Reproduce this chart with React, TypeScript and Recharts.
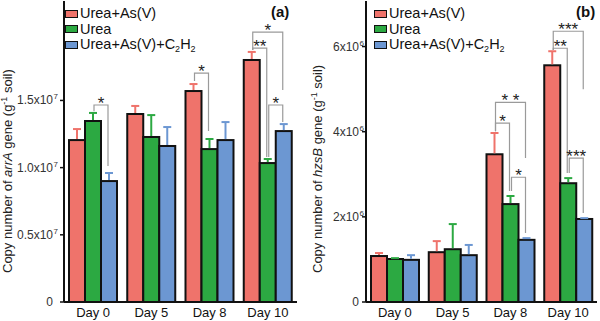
import { BarChart, Bar, XAxis, YAxis, Legend } from 'recharts';

const days = ['Day 0', 'Day 5', 'Day 8', 'Day 10'];
const seriesNames = ['Urea+As(V)', 'Urea', 'Urea+As(V)+C2H2'];
const colors = ['#EF736B', '#2CA942', '#6C97D2'];

// panel (a): arrA copies
const arrAUreaAs = [1.205e7, 1.399e7, 1.57e7, 1.801e7];
const arrAUrea = [1.347e7, 1.228e7, 1.138e7, 1.034e7];
const arrAC2H2 = [0.9e7, 1.161e7, 1.205e7, 1.272e7];
const arrAUreaAsSd = [0.082e7, 0.06e7, 0.052e7, 0.06e7];
const arrAUreaSd = [0.06e7, 0.163e7, 0.075e7, 0.03e7];
const arrAC2H2Sd = [0.06e7, 0.141e7, 0.134e7, 0.052e7];
const arrATicks = [0, 0.5e7, 1.0e7, 1.5e7];
const arrATickLabels = [['0', ''], ['0.5x10', '7'], ['1.0x10', '7'], ['1.5x10', '7']];
const arrABrackets = [
  { day: 0, from: 1, to: 2, level: 1.466e7, fromEnd: 1.42e7, toEnd: 1.012e7, mark: '*' },
  { day: 2, from: 0, to: 1, level: 1.704e7, fromEnd: 1.644e7, toEnd: 1.272e7, mark: '*' },
  { day: 3, from: 0, to: 2, level: 2.009e7, fromEnd: 1.875e7, toEnd: 1.577e7, mark: '*' },
  { day: 3, from: 0, to: 1, level: 1.89e7, fromEnd: 1.875e7, toEnd: 1.079e7, mark: '**' },
  { day: 3, from: 1, to: 2, level: 1.466e7, fromEnd: 1.079e7, toEnd: 1.339e7, mark: '*' },
];

// panel (b): hzsB copies
const hzsBUreaAs = [1.08e6, 1.17e6, 3.47e6, 5.56e6];
const hzsBUrea = [1.01e6, 1.24e6, 2.3e6, 2.79e6];
const hzsBC2H2 = [0.99e6, 1.1e6, 1.46e6, 1.95e6];
const hzsBUreaAsSd = [0.07e6, 0.26e6, 0.5e6, 0.33e6];
const hzsBUreaSd = [0.02e6, 0.59e6, 0.19e6, 0.12e6];
const hzsBC2H2Sd = [0.11e6, 0.24e6, 0.04e6, 0.02e6];
const hzsBTicks = [0, 2e6, 4e6, 6e6];
const hzsBTickLabels = [['0', ''], ['2x10', '6'], ['4x10', '6'], ['6x10', '6']];
const hzsBBrackets = [
  { day: 2, from: 0, to: 1, level: 4.2e6, fromEnd: 4.01e6, toEnd: 2.61e6, mark: '*' },
  { day: 2, from: 0, to: 2, level: 4.69e6, fromEnd: 4.01e6, toEnd: 3.38e6, mark: '* *' },
  { day: 2, from: 1, to: 2, level: 2.93e6, fromEnd: 2.61e6, toEnd: 1.62e6, mark: '*' },
  { day: 3, from: 0, to: 2, level: 6.36e6, fromEnd: 5.92e6, toEnd: 5.0e6, mark: '***' },
  { day: 3, from: 0, to: 1, level: 5.96e6, fromEnd: 5.92e6, toEnd: 3.03e6, mark: '**' },
  { day: 3, from: 1, to: 2, level: 3.38e6, fromEnd: 3.03e6, toEnd: 2.09e6, mark: '***' },
];

const FONT = '"Liberation Sans", Arial, sans-serif';

type Bracket = { day: number; from: number; to: number; level: number; fromEnd: number; toEnd: number; mark: string };

const buildRows = (vals: number[][], sds: number[][]) =>
  days.map((day, i) => ({
    day,
    s0: vals[0][i], s1: vals[1][i], s2: vals[2][i],
    e0: sds[0][i], e1: sds[1][i], e2: sds[2][i],
  }));

const subStyle = { fontSize: 9, position: 'relative' as const, top: 3, lineHeight: 0 };

const seriesLabel = (name: string) => {
  if (name.endsWith('C2H2')) {
    return (
      <span>
        {name.slice(0, -4)}C<span style={subStyle}>2</span>H<span style={subStyle}>2</span>
      </span>
    );
  }
  return <span>{name}</span>;
};

// bar + error cap; the last series also draws the significance brackets of its group
const makeShape = (s: number, brackets: Bracket[]) => (props: any) => {
  const { x, y, width, height, payload, index } = props;
  const v = payload['s' + s];
  const sd = payload['e' + s];
  const k = v ? height / v : 0;
  const base = y + height;
  const toY = (val: number) => base - val * k;
  const cx = x + width / 2;
  const errTop = y - sd * k;
  const own = s === 2 ? brackets.filter((b) => b.day === index) : [];
  const barCx = (si: number) => x - (s - si) * width + width / 2;
  return (
    <g>
      <rect x={x} y={y} width={width} height={height} fill={colors[s]} stroke="#111" strokeWidth={2} />
      <line x1={cx} y1={y - 1} x2={cx} y2={errTop} stroke={colors[s]} strokeWidth={2} />
      <line x1={cx - 4} y1={errTop} x2={cx + 4} y2={errTop} stroke={colors[s]} strokeWidth={2} />
      {own.map((b, j) => {
        const x1 = barCx(b.from) + 1;
        const x2 = barCx(b.to) - 1;
        const yl = toY(b.level);
        return (
          <g key={j}>
            <polyline
              points={`${x1},${toY(b.fromEnd)} ${x1},${yl} ${x2},${yl} ${x2},${toY(b.toEnd)}`}
              fill="none"
              stroke="#9a9a9a"
              strokeWidth={1.2}
            />
            <text x={(x1 + x2) / 2} y={yl + 4} textAnchor="middle" fontSize={17} fill="#222" fontFamily={FONT}>
              {b.mark}
            </text>
          </g>
        );
      })}
    </g>
  );
};

const XTick = (props: any) => {
  const { x, y, payload } = props;
  return (
    <text x={x} y={y + 15} textAnchor="middle" fontSize={13} fill="#111" fontFamily={FONT}>
      {payload.value}
    </text>
  );
};

const makeYTick = (ticks: number[], labels: string[][]) => (props: any) => {
  const { x, y, payload } = props;
  const lab = labels[ticks.indexOf(payload.value)] || [String(payload.value), ''];
  return (
    <g>
      <text x={x} y={y + 4} textAnchor="end" fontSize={12} fill="#333" fontFamily={FONT}>
        {lab[0]}
      </text>
      {lab[1] && (
        <text x={x + 0.5} y={y - 1} textAnchor="start" fontSize={8} fill="#333" fontFamily={FONT}>
          {lab[1]}
        </text>
      )}
    </g>
  );
};

type PanelProps = {
  rows: any[];
  ticks: number[];
  tickLabels: string[][];
  domain: [number, number];
  gene: string;
  brackets: Bracket[];
  axisWidth: number;
  tickGap: number;
  titleX: number;
  tag: string;
  tagLeft: number;
  legendLeft: number;
};

function Panel(p: PanelProps) {
  const renderTitle = (lp: any) => {
    const vb = lp.viewBox || { x: 0, y: 1, width: p.axisWidth, height: 301 };
    const tx = vb.x + p.titleX;
    const ty = vb.y + vb.height - 29;
    return (
      <text x={tx} y={ty} transform={`rotate(-90, ${tx}, ${ty})`} fontSize={13} fill="#222" fontFamily={FONT}>
        <tspan>Copy number of </tspan>
        <tspan fontStyle="italic">{p.gene}</tspan>
        <tspan> gene (g</tspan>
        <tspan dy={-5} fontSize={9}>-1</tspan>
        <tspan dy={5}> soil)</tspan>
      </text>
    );
  };

  return (
    <div style={{ position: 'relative', width: 300, height: 321 }}>
      <BarChart
        width={300}
        height={321}
        data={p.rows}
        margin={{ top: 1, right: 3, left: 0, bottom: 0 }}
        barGap={0}
        barSize={16}
      >
        <XAxis
          dataKey="day"
          height={19}
          tickLine={false}
          tickSize={0}
          tickMargin={0}
          interval={0}
          axisLine={{ stroke: '#111', strokeWidth: 2 }}
          tick={XTick}
        />
        <XAxis
          xAxisId="top"
          orientation="top"
          dataKey="day"
          height={0}
          tick={false}
          tickLine={false}
          axisLine={{ stroke: '#111', strokeWidth: 2 }}
        />
        <YAxis
          type="number"
          width={p.axisWidth}
          domain={p.domain}
          ticks={p.ticks}
          interval={0}
          allowDataOverflow
          tickSize={4}
          tickMargin={p.tickGap}
          tickLine={{ stroke: '#111', strokeWidth: 1.5 }}
          axisLine={{ stroke: '#111', strokeWidth: 2 }}
          tick={makeYTick(p.ticks, p.tickLabels)}
          label={renderTitle}
        />
        <YAxis
          yAxisId="r"
          orientation="right"
          width={0}
          domain={[0, 1]}
          tick={false}
          tickLine={false}
          axisLine={{ stroke: '#111', strokeWidth: 2 }}
        />
        <Legend
          layout="vertical"
          align="center"
          verticalAlign="middle"
          wrapperStyle={{ top: 6, left: p.legendLeft, width: 'auto', height: 'auto' }}
          content={() => (
            <div style={{ fontSize: 14.5, color: '#111', fontFamily: FONT }}>
              {seriesNames.map((n, i) => (
                <div
                  key={n}
                  style={{ display: 'flex', alignItems: 'center', height: 15.5, lineHeight: '15px', whiteSpace: 'nowrap' }}
                >
                  <span
                    style={{
                      display: 'inline-block',
                      width: 11,
                      height: 6,
                      background: colors[i],
                      border: '1.5px solid #111',
                      marginRight: 2,
                    }}
                  />
                  {seriesLabel(n)}
                </div>
              ))}
            </div>
          )}
        />
        {seriesNames.map((n, i) => (
          <Bar
            key={n}
            dataKey={'s' + i}
            name={n}
            fill={colors[i]}
            isAnimationActive={false}
            shape={makeShape(i, p.brackets)}
          />
        ))}
      </BarChart>
      <div
        style={{
          position: 'absolute',
          left: p.tagLeft,
          top: 3,
          fontSize: 15,
          fontWeight: 'bold',
          lineHeight: '17px',
          color: '#111',
          fontFamily: FONT,
        }}
      >
        {p.tag}
      </div>
    </div>
  );
}

export default function App() {
  const rowsA = buildRows([arrAUreaAs, arrAUrea, arrAC2H2], [arrAUreaAsSd, arrAUreaSd, arrAC2H2Sd]);
  const rowsB = buildRows([hzsBUreaAs, hzsBUrea, hzsBC2H2], [hzsBUreaAsSd, hzsBUreaSd, hzsBC2H2Sd]);
  return (
    <div style={{ position: 'absolute', left: 0, top: 0, width: 600, height: 321, background: '#fff', display: 'flex' }}>
      <Panel
        rows={rowsA}
        ticks={arrATicks}
        tickLabels={arrATickLabels}
        domain={[0, 2.24e7]}
        gene="arrA"
        brackets={arrABrackets}
        axisWidth={64}
        tickGap={7}
        titleX={12}
        tag="(a)"
        tagLeft={271}
        legendLeft={65}
      />
      <Panel
        rows={rowsB}
        ticks={hzsBTicks}
        tickLabels={hzsBTickLabels}
        domain={[0, 7.07e6]}
        gene="hzsB"
        brackets={hzsBBrackets}
        axisWidth={66}
        tickGap={3}
        titleX={22}
        tag="(b)"
        tagLeft={276}
        legendLeft={74}
      />
    </div>
  );
}
